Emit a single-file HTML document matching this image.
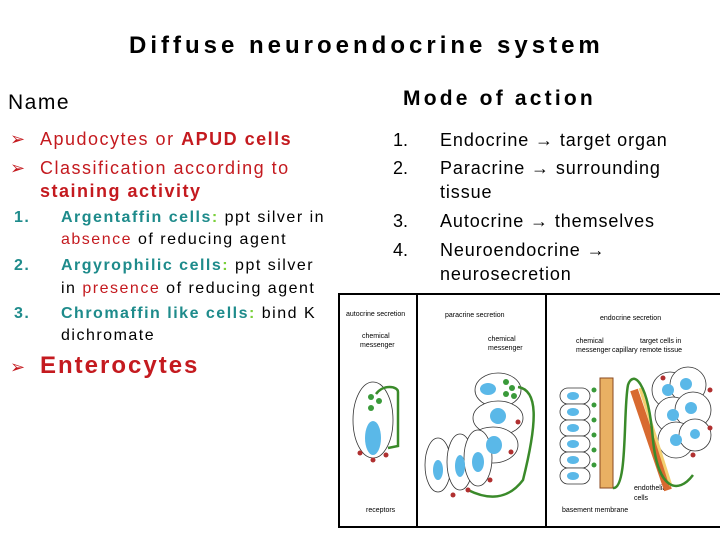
<!DOCTYPE html>
<html><head><meta charset="utf-8"><style>
body{margin:0;width:720px;height:540px;background:#fff;position:relative;overflow:hidden;font-family:"Liberation Sans",Arial,sans-serif}
.a{position:absolute;white-space:nowrap;line-height:1}
.r{color:#c41a1f}.t{color:#1e8b8b;font-weight:bold}.g{color:#7ad03a}
.b{font-weight:bold}
.ls{letter-spacing:1.5px}
</style></head><body>
<div class="a b" style="left:129px;top:34px;font-size:24px;letter-spacing:4px">Diffuse neuroendocrine system</div>
<div class="a ls" style="left:8px;top:92px;font-size:21px">Name</div>
<div class="a b" style="left:403px;top:88px;font-size:21px;letter-spacing:3.2px">Mode of action</div>

<div class="a r" style="left:10px;top:130px;font-size:18px">➢</div>
<div class="a r ls" style="left:40px;top:130px;font-size:18px">Apudocytes or <b>APUD cells</b></div>
<div class="a r" style="left:10px;top:159px;font-size:18px">➢</div>
<div class="a r ls" style="left:40px;top:159px;font-size:18px">Classification according to</div>
<div class="a r b ls" style="left:40px;top:182px;font-size:18px">staining activity</div>
<div class="a t ls" style="left:14px;top:210px;font-size:16px">1.</div>
<div class="a ls" style="left:61px;top:210px;font-size:16px"><span class="t">Argentaffin cells</span><span class="g b">:</span> ppt silver in</div>
<div class="a ls" style="left:61px;top:232px;font-size:16px"><span class="r">absence</span> of reducing agent</div>
<div class="a t ls" style="left:14px;top:258px;font-size:16px">2.</div>
<div class="a ls" style="left:61px;top:258px;font-size:16px"><span class="t">Argyrophilic cells</span><span class="g b">:</span> ppt silver</div>
<div class="a ls" style="left:61px;top:281px;font-size:16px">in <span class="r">presence</span> of reducing agent</div>
<div class="a t ls" style="left:14px;top:306px;font-size:16px">3.</div>
<div class="a ls" style="left:61px;top:306px;font-size:16px"><span class="t">Chromaffin like cells</span><span class="g b">:</span> bind K</div>
<div class="a ls" style="left:61px;top:328px;font-size:16px">dichromate</div>
<div class="a r" style="left:10px;top:358px;font-size:18px">➢</div>
<div class="a r b" style="left:40px;top:354px;font-size:24px;letter-spacing:2px">Enterocytes</div>

<div class="a" style="left:393px;top:131px;font-size:18px">1.</div>
<div class="a" style="left:440px;top:131px;font-size:18px;letter-spacing:0.9px">Endocrine → target organ</div>
<div class="a" style="left:393px;top:159px;font-size:18px">2.</div>
<div class="a" style="left:440px;top:159px;font-size:18px;letter-spacing:0.9px">Paracrine → surrounding</div>
<div class="a" style="left:440px;top:183px;font-size:18px;letter-spacing:0.9px">tissue</div>
<div class="a" style="left:393px;top:212px;font-size:18px">3.</div>
<div class="a" style="left:440px;top:212px;font-size:18px;letter-spacing:0.9px">Autocrine → themselves</div>
<div class="a" style="left:393px;top:241px;font-size:18px">4.</div>
<div class="a" style="left:440px;top:241px;font-size:18px;letter-spacing:0.9px">Neuroendocrine →</div>
<div class="a" style="left:440px;top:265px;font-size:18px;letter-spacing:0.9px">neurosecretion</div>

<svg class="a" style="left:338px;top:290px" width="382" height="240" viewBox="0 0 382 240" font-family="Liberation Sans" font-size="7">
<g stroke="#000" stroke-width="2" fill="none"><line x1="0" y1="4" x2="382" y2="4"/><line x1="0" y1="237" x2="382" y2="237"/><line x1="1" y1="4" x2="1" y2="237"/><line x1="79" y1="4" x2="79" y2="237"/><line x1="208" y1="4" x2="208" y2="237"/></g>
<text x="8" y="26">autocrine secretion</text><text x="24" y="48">chemical</text><text x="22" y="57">messenger</text><text x="28" y="222">receptors</text>
<text x="107" y="27">paracrine secretion</text><text x="150" y="51">chemical</text><text x="150" y="60">messenger</text>
<text x="262" y="30">endocrine secretion</text><text x="238" y="53">chemical</text><text x="238" y="62">messenger</text><text x="274" y="62">capillary</text><text x="302" y="53">target cells in</text><text x="302" y="62">remote tissue</text><text x="296" y="200">endothelial</text><text x="296" y="210">cells</text><text x="224" y="222">basement membrane</text>
<g stroke="#333" stroke-width="0.8" fill="#fff">
<ellipse cx="35" cy="130" rx="20" ry="38"/>
<ellipse cx="160" cy="100" rx="23" ry="17"/><ellipse cx="160" cy="128" rx="25" ry="17"/><ellipse cx="155" cy="155" rx="25" ry="18"/>
<ellipse cx="100" cy="175" rx="13" ry="27"/><ellipse cx="122" cy="172" rx="13" ry="28"/><ellipse cx="140" cy="168" rx="14" ry="28"/>
<rect x="222" y="98" width="30" height="16" rx="8"/><rect x="222" y="114" width="30" height="16" rx="8"/><rect x="222" y="130" width="30" height="16" rx="8"/><rect x="222" y="146" width="30" height="16" rx="8"/><rect x="222" y="162" width="30" height="16" rx="8"/><rect x="222" y="178" width="30" height="16" rx="8"/>
<ellipse cx="332" cy="100" rx="18" ry="18"/><ellipse cx="350" cy="95" rx="18" ry="18"/><ellipse cx="335" cy="125" rx="18" ry="18"/><ellipse cx="355" cy="120" rx="18" ry="18"/><ellipse cx="338" cy="150" rx="18" ry="18"/><ellipse cx="357" cy="145" rx="16" ry="16"/>
</g>
<g fill="#5ab8e8"><ellipse cx="35" cy="148" rx="8" ry="17"/><ellipse cx="150" cy="99" rx="8" ry="6"/><ellipse cx="160" cy="126" rx="8" ry="8"/><ellipse cx="156" cy="155" rx="8" ry="9"/><ellipse cx="100" cy="180" rx="5" ry="10"/><ellipse cx="122" cy="176" rx="5" ry="11"/><ellipse cx="140" cy="172" rx="6" ry="10"/>
<ellipse cx="235" cy="106" rx="6" ry="4"/><ellipse cx="235" cy="122" rx="6" ry="4"/><ellipse cx="235" cy="138" rx="6" ry="4"/><ellipse cx="235" cy="154" rx="6" ry="4"/><ellipse cx="235" cy="170" rx="6" ry="4"/><ellipse cx="235" cy="186" rx="6" ry="4"/>
<circle cx="330" cy="100" r="6"/><circle cx="348" cy="94" r="6"/><circle cx="353" cy="118" r="6"/><circle cx="335" cy="125" r="6"/><circle cx="338" cy="150" r="6"/><circle cx="357" cy="144" r="5"/></g>
<rect x="262" y="88" width="13" height="110" fill="#e9b063" stroke="#8a4a20"/>
<path d="M296 100 L330 200" stroke="#d86a30" stroke-width="8" fill="none"/><path d="M302 98 L333 196" stroke="#f3d070" stroke-width="3" fill="none"/>
<g fill="#3a9a3a"><circle cx="33" cy="107" r="3"/><circle cx="41" cy="111" r="3"/><circle cx="33" cy="118" r="3"/><circle cx="168" cy="92" r="3"/><circle cx="174" cy="98" r="3"/><circle cx="168" cy="104" r="3"/><circle cx="176" cy="106" r="3"/><circle cx="256" cy="100" r="2.5"/><circle cx="256" cy="115" r="2.5"/><circle cx="256" cy="130" r="2.5"/><circle cx="256" cy="145" r="2.5"/><circle cx="256" cy="160" r="2.5"/><circle cx="256" cy="175" r="2.5"/></g>
<g stroke="#3a8a2a" stroke-width="2.5" fill="none"><path d="M38 104 C45 94 60 96 60 102 L60 156 L50 158"/><path d="M180 97 C200 100 200 130 185 190 C170 210 150 210 130 200"/><path d="M275 198 C290 200 285 120 290 95 C295 80 310 90 315 150 C320 200 340 205 355 185"/></g>
<g fill="#b03030"><circle cx="22" cy="163" r="2.5"/><circle cx="35" cy="170" r="2.5"/><circle cx="48" cy="165" r="2.5"/><circle cx="115" cy="205" r="2.5"/><circle cx="130" cy="200" r="2.5"/><circle cx="152" cy="190" r="2.5"/><circle cx="173" cy="162" r="2.5"/><circle cx="180" cy="132" r="2.5"/><circle cx="325" cy="88" r="2.5"/><circle cx="372" cy="100" r="2.5"/><circle cx="372" cy="138" r="2.5"/><circle cx="355" cy="165" r="2.5"/></g>
</svg>
</body></html>
